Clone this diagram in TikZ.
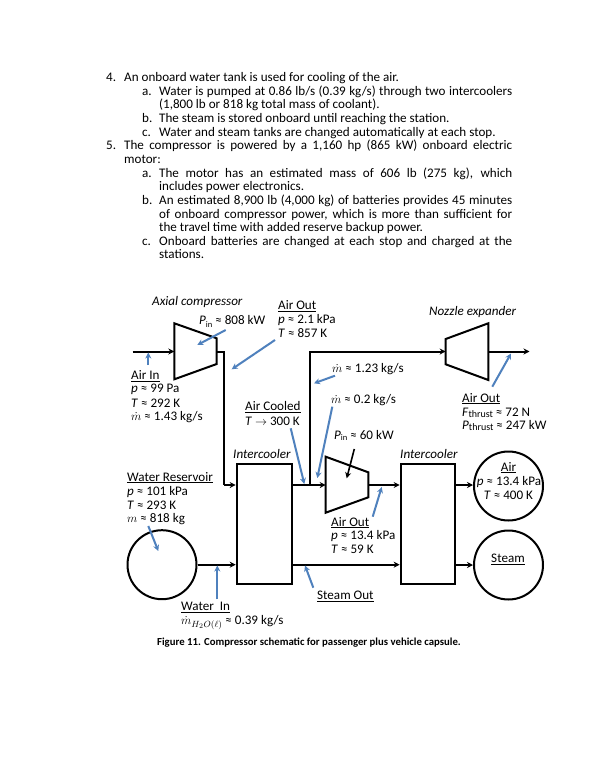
\documentclass[tikz,border=0pt]{standalone}
\usepackage{fontspec}
\setmainfont{Carlito}
\newfontfamily\lab{Carlito}
\usetikzlibrary{arrows.meta}
\definecolor{callout}{HTML}{4F81BD}
\newcommand{\jline}[1]{\makebox[353pt][s]{#1}}
\begin{document}
\begin{tikzpicture}[x=1pt,y=-1pt,
  body/.style={anchor=base west,inner sep=0pt,font=\fontsize{13.1}{14}\selectfont},
  lbl/.style={anchor=west,inner sep=0pt,yshift=-0.6pt,font=\lab\fontsize{13.1}{14}\selectfont},
  ital/.style={lbl,font=\lab\itshape\fontsize{13.1}{14}\selectfont},
  ctr/.style={lbl,anchor=center},
  equip/.style={draw=black,line width=2pt,fill=white,line join=miter},
  pipe/.style={draw=black,line width=2pt},
  flow/.style={pipe,-{Stealth[length=6pt,width=6pt]}},
  note/.style={draw=callout,line width=2pt,-{Stealth[length=6pt,width=6pt]}},
  pnote/.style={draw=black,line width=1.6pt,-{Stealth[length=6pt,width=6pt]}}]
\useasboundingbox (0,0) rectangle (600,776);
\fill[white] (0,0) rectangle (600,776);
% body text
\node[body] (t1) at (106,81.5) {4.};
\node[body] (t1b) at (124,81.5) {An onboard water tank is used for cooling of the air.};
\node[body] (t2) at (142,95) {a.};
\node[body] (t2b) at (159,95) {\jline{Water is pumped at 0.86 lb/s (0.39 kg/s) through two intercoolers}};
\node[body] (t3) at (159,108.5) {(1,800 lb or 818 kg total mass of coolant).};
\node[body] (t4) at (142,122.5) {b.};
\node[body] (t4b) at (159,122.5) {The steam is stored onboard until reaching the station.};
\node[body] (t5) at (142,136) {c.};
\node[body] (t5b) at (159,136) {Water and steam tanks are changed automatically at each stop.};
\node[body] (t6) at (106,149.5) {5.};
\node[body] (t6b) at (124,149.5) {\makebox[388pt][s]{The compressor is powered by a 1,160 hp (865 kW) onboard electric}};
\node[body] (t7) at (124,163.5) {motor:};
\node[body] (t8) at (142,177) {a.};
\node[body] (t8b) at (159,177) {\jline{The motor has an estimated mass of 606 lb (275 kg), which}};
\node[body] (t9) at (159,190.5) {includes power electronics.};
\node[body] (t10) at (142,204.5) {b.};
\node[body] (t10b) at (159,204.5) {\jline{An estimated 8,900 lb (4,000 kg) of batteries provides 45 minutes}};
\node[body] (t11) at (159,218) {\jline{of onboard compressor power, which is more than sufficient for}};
\node[body] (t12) at (159,231.5) {the travel time with added reserve backup power.};
\node[body] (t13) at (142,245) {c.};
\node[body] (t13b) at (159,245) {\jline{Onboard batteries are changed at each stop and charged at the}};
\node[body] (t14) at (159,258.5) {stations.};
% named points
\coordinate (airin) at (132.7,351.5);
\coordinate (comp1in) at (174.3,351.5);
\coordinate (comp1out) at (216.7,351.5);
\coordinate (bend1) at (224,351.5);
\coordinate (bend2) at (224,485);
\coordinate (tee) at (310,485);
\coordinate (teetop) at (310,351.5);
\coordinate (nozin) at (445.7,351.5);
\coordinate (nozout) at (488.3,351.5);
\coordinate (airend) at (529.5,351.5);
\coordinate (comp2in) at (325.7,485);
\coordinate (comp2out) at (368.3,485);
% equipment
\node[equip,minimum width=55pt,minimum height=120pt,inner sep=0pt] (ic1) at (264.2,524.2) {};
\node[equip,minimum width=54.3pt,minimum height=120.3pt,inner sep=0pt] (ic2) at (427.8,524.2) {};
\node[equip,circle,minimum size=69pt,inner sep=0pt] (air) at (508.5,486) {};
\node[equip,circle,minimum size=69pt,inner sep=0pt] (steam) at (508.5,565) {};
\node[equip,circle,minimum size=69pt,inner sep=0pt] (water) at (162,564.7) {};
% connectors
\draw[flow] (airin) -- (comp1in);
\draw[pipe] (comp1out) -- (bend1) -- (bend2);
\draw[flow] (bend2) -- (bend2 -| ic1.west);
\draw[flow] (ic1.east |- tee) -- (comp2in);
\draw[flow] (tee) -- (teetop) -- (nozin);
\draw[flow] (nozout) -- (airend);
\draw[flow] (comp2out) -- (comp2out -| ic2.west);
\draw[flow] (ic2.east |- comp2out) -- (comp2out -| air.west);
\draw[flow] (water.east) -- (water.east -| ic1.west);
\draw[flow] (ic1.east |- water.east) -- (ic2.west |- water.east);
\draw[flow] (ic2.east |- steam.west) -- (steam.west);
\draw[equip] (174.3,323.3) -- (216.7,338.3) -- (216.7,364) -- (174.3,379.3) -- cycle;
\draw[equip] (445.7,339) -- (488.3,323.3) -- (488.3,380) -- (445.7,364.3) -- cycle;
\draw[equip] (325.7,456.7) -- (368.3,472.3) -- (368.3,497.3) -- (325.7,512.7) -- cycle;
% labels
\node[ital] (axial) at (152,301) {Axial compressor};
\node[lbl] (pin1) at (199,321) {\textit{P}\raisebox{-3pt}{\fontsize{8.5}{9}\selectfont in} ≈ 808 kW};
\node[lbl] (ao1) at (278,305.5) {\underline{Air Out}};
\node[lbl] (ao2) at (278,319) {\textit{p} ≈ 2.1 kPa};
\node[lbl] (ao3) at (278,332.5) {\textit{T} ≈ 857 K};
\node[lbl] (ai1) at (131,375.5) {\underline{Air In}};
\node[lbl] (ai2) at (131,389) {\textit{p} ≈ 99 Pa};
\node[lbl] (ai3) at (131,402.5) {\textit{T} ≈ 292 K};
\node[lbl] (ai4) at (131,416) {\(\dot m\) ≈ 1.43 kg/s};
\node[lbl] (ac1) at (245,406.5) {\underline{Air Cooled}};
\node[lbl] (ac2) at (245,421) {\textit{T} \(\rightarrow\) 300 K};
\node[ital] (ict1) at (233,453.5) {Intercooler};
\node[ital] (ict2) at (400,453.5) {Intercooler};
\node[lbl] (wr1) at (127,477) {\underline{Water Reservoir}};
\node[lbl] (wr2) at (127,491) {\textit{p} ≈ 101 kPa};
\node[lbl] (wr3) at (127,504.5) {\textit{T} ≈ 293 K};
\node[lbl] (wr4) at (127,518) {\(m\) ≈ 818 kg};
\node[lbl] (wi1) at (181,607) {\underline{Water\ \ In}};
\node[lbl] (wi2) at (181,622) {\(\dot m_{H_2O(\ell)}\) ≈ 0.39 kg/s};
\node[lbl] (so) at (317,596) {\underline{Steam Out}};
\node[lbl] (ao4) at (331,522) {\underline{Air Out}};
\node[lbl] (ao5) at (331,535.5) {\textit{p} ≈ 13.4 kPa};
\node[lbl] (ao6) at (331,549) {\textit{T} ≈ 59 K};
\node[lbl] (pin2) at (334,435) {\textit{P}\raisebox{-1.5pt}{\fontsize{8.5}{9}\selectfont in} ≈ 60 kW};
\node[lbl] (m1) at (332,368) {\(\dot m\) ≈ 1.23 kg/s};
\node[lbl] (m2) at (331,399.5) {\(\dot m\) ≈ 0.2 kg/s};
\node[ital] (nozt) at (429,311) {Nozzle expander};
\node[lbl] (ao7) at (462,398) {\underline{Air Out}};
\node[lbl] (ao8) at (462,412) {\textit{F}\raisebox{-1.5pt}{\fontsize{10}{10}\selectfont thrust} ≈ 72 N};
\node[lbl] (ao9) at (462,425) {\textit{P}\raisebox{-1.5pt}{\fontsize{10}{10}\selectfont thrust} ≈ 247 kW};
\node[ctr] (a1) at (508.5,467) {\underline{Air}};
\node[ctr] (a2) at (509,481) {\textit{p} ≈ 13.4 kPa};
\node[ctr] (a3) at (508.5,495) {\textit{T} ≈ 400 K};
\node[ctr] (s1) at (508,559) {\underline{Steam}};
\node[anchor=center,inner sep=0pt,font=\bfseries\fontsize{10.75}{12}\selectfont] (cap) at (309,643) {Figure 11. Compressor schematic for passenger plus vehicle capsule.};
% callouts
\coordinate (c1a) at (225.7,330); \coordinate (c1b) at (197.3,345);
\coordinate (c2a) at (148.3,365); \coordinate (c2b) at (148.3,352.5);
\coordinate (c3a) at (275,340); \coordinate (c3b) at (231.7,369.3);
\coordinate (c4a) at (335,375.7); \coordinate (c4b) at (314,383.3);
\coordinate (c5a) at (332.3,406.7); \coordinate (c5b) at (317.3,478);
\coordinate (c6a) at (290.7,428.3); \coordinate (c6b) at (304.3,484);
\coordinate (c7a) at (492.3,386.7); \coordinate (c7b) at (511,353.5);
\coordinate (c8a) at (148.3,526); \coordinate (c8b) at (158.3,551);
\coordinate (c9a) at (217.3,599.3); \coordinate (c9b) at (217.3,565.5);
\coordinate (c10a) at (313.3,587.7); \coordinate (c10b) at (305,565.5);
\coordinate (c11a) at (372.7,516.7); \coordinate (c11b) at (381.7,487);
\coordinate (c12a) at (354.3,449); \coordinate (c12b) at (346.7,478.3);
\foreach \n in {1,...,11} \draw[note] (c\n a) -- (c\n b);
\draw[pnote] (c12a) -- (c12b);
\end{tikzpicture}
\end{document}
